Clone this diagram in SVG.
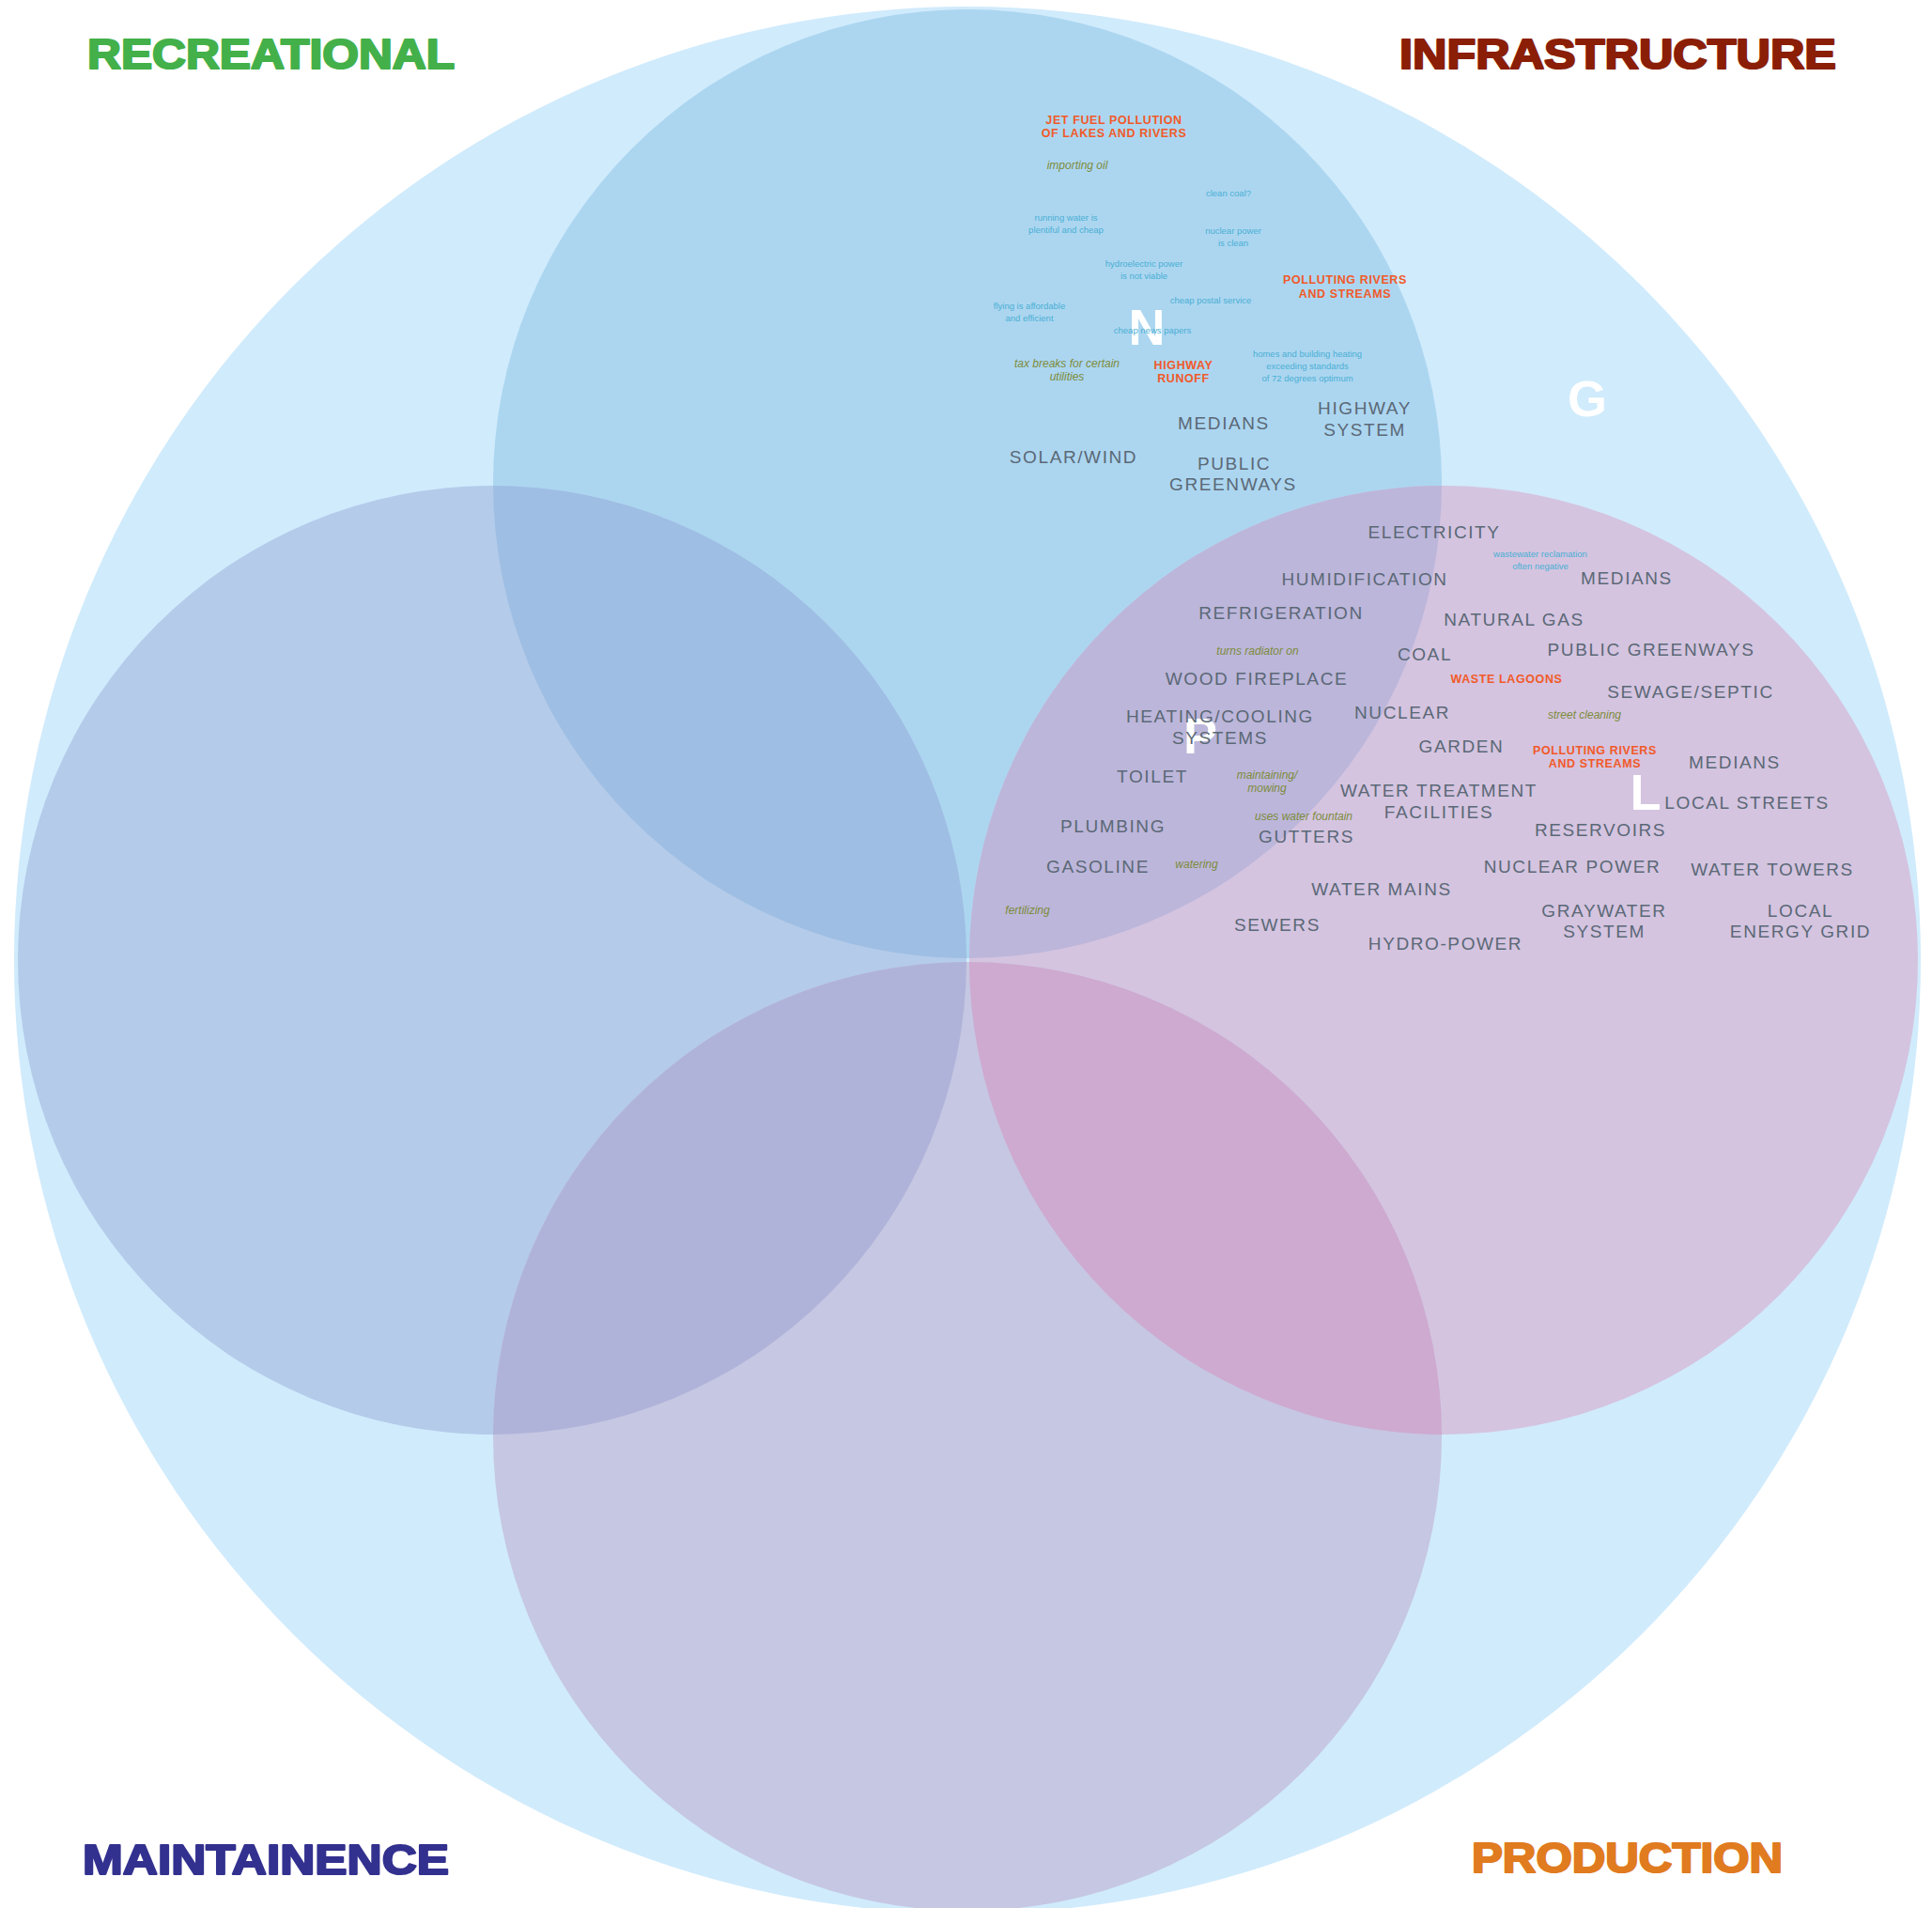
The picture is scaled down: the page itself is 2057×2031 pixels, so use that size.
<svg xmlns="http://www.w3.org/2000/svg" width="2057" height="2031" viewBox="0 0 2057 2031">
<style>
text{font-family:"Liberation Sans",Arial,sans-serif;text-anchor:middle}
.lbl{font-size:19px;letter-spacing:1.6px;fill:#5b6876}
.warn{font-size:12.5px;font-weight:bold;letter-spacing:0.6px;fill:#f15a29}
.note{font-size:9.5px;fill:#4aafd4}
.act{font-size:12px;font-style:italic;fill:#7d8b3b}
.big{font-size:54px;font-weight:bold;fill:#ffffff}
.title{font-size:45px;font-weight:bold;text-anchor:start;stroke-width:2.2px;stroke-linejoin:round}
</style>
<defs>
<clipPath id="clipTop"><circle cx="1030" cy="515" r="505"/></clipPath>
<clipPath id="clipBottom"><circle cx="1030" cy="1529" r="505"/></clipPath>
</defs>
<rect width="2057" height="2031" fill="#ffffff"/>
<g id="outer"><circle cx="1030" cy="1022" r="1015" fill="#d0ebfc"/></g>
<g id="circle-top"><circle cx="1030" cy="515" r="505" fill="#acd6f0"/></g>
<g id="circle-left"><circle cx="524" cy="1022" r="505" fill="#b4cbea"/></g>
<g id="circle-right"><circle cx="1537" cy="1022" r="505" fill="#d4c4e0"/></g>
<g id="circle-bottom"><circle cx="1030" cy="1529" r="505" fill="#c6c7e2"/></g>
<g id="overlaps">
<circle cx="524" cy="1022" r="505" fill="#9ebee3" clip-path="url(#clipTop)"/>
<circle cx="1537" cy="1022" r="505" fill="#bcb6da" clip-path="url(#clipTop)"/>
<circle cx="524" cy="1022" r="505" fill="#b0b3d9" clip-path="url(#clipBottom)"/>
<circle cx="1537" cy="1022" r="505" fill="#cea9d0" clip-path="url(#clipBottom)"/>
</g>
<g id="titles">
<text class="title" x="93" y="73" textLength="391" lengthAdjust="spacingAndGlyphs" fill="#43b04a" stroke="#43b04a">RECREATIONAL</text>
<text class="title" x="1490" y="73" textLength="465" lengthAdjust="spacingAndGlyphs" fill="#8b1e06" stroke="#8b1e06">INFRASTRUCTURE</text>
<text class="title" x="88" y="1995" textLength="390" lengthAdjust="spacingAndGlyphs" fill="#33318f" stroke="#33318f">MAINTAINENCE</text>
<text class="title" x="1567" y="1993" textLength="331" lengthAdjust="spacingAndGlyphs" fill="#e07b1f" stroke="#e07b1f">PRODUCTION</text>
</g>
<g id="letters">
<text class="big" x="1221" y="367">N</text>
<text class="big" x="1690" y="443">G</text>
<text class="big" x="1278" y="802">P</text>
<text class="big" x="1752" y="862">L</text>
</g>
<g id="labels-top">
<text class="warn" x="1186" y="132">JET FUEL POLLUTION</text>
<text class="warn" x="1186" y="146">OF LAKES AND RIVERS</text>
<text class="act" x="1147" y="180">importing oil</text>
<text class="note" x="1308" y="209">clean coal?</text>
<text class="note" x="1135" y="235">running water is</text>
<text class="note" x="1135" y="248">plentiful and cheap</text>
<text class="note" x="1313" y="249">nuclear power</text>
<text class="note" x="1313" y="262">is clean</text>
<text class="note" x="1218" y="284">hydroelectric power</text>
<text class="note" x="1218" y="297">is not viable</text>
<text class="warn" x="1432" y="302">POLLUTING RIVERS</text>
<text class="warn" x="1432" y="317">AND STREAMS</text>
<text class="note" x="1289" y="323">cheap postal service</text>
<text class="note" x="1096" y="329">flying is affordable</text>
<text class="note" x="1096" y="342">and efficient</text>
<text class="note" x="1227" y="355">cheap news papers</text>
<text class="note" x="1392" y="380">homes and building heating</text>
<text class="note" x="1392" y="393">exceeding standards</text>
<text class="note" x="1392" y="406">of 72 degrees optimum</text>
<text class="act" x="1136" y="391">tax breaks for certain</text>
<text class="act" x="1136" y="405">utilities</text>
<text class="warn" x="1260" y="393">HIGHWAY</text>
<text class="warn" x="1260" y="407">RUNOFF</text>
<text class="lbl" x="1303" y="457">MEDIANS</text>
<text class="lbl" x="1453" y="441">HIGHWAY</text>
<text class="lbl" x="1453" y="464">SYSTEM</text>
<text class="lbl" x="1143" y="493">SOLAR/WIND</text>
<text class="lbl" x="1314" y="500">PUBLIC</text>
<text class="lbl" x="1313" y="522">GREENWAYS</text>
</g>
<g id="labels-overlap">
<text class="lbl" x="1527" y="573">ELECTRICITY</text>
<text class="lbl" x="1453" y="623">HUMIDIFICATION</text>
<text class="lbl" x="1364" y="659">REFRIGERATION</text>
<text class="act" x="1339" y="697">turns radiator on</text>
<text class="lbl" x="1338" y="729">WOOD FIREPLACE</text>
<text class="lbl" x="1299" y="769">HEATING/COOLING</text>
<text class="lbl" x="1299" y="792">SYSTEMS</text>
<text class="lbl" x="1227" y="833">TOILET</text>
<text class="act" x="1349" y="829">maintaining/</text>
<text class="act" x="1349" y="843">mowing</text>
<text class="act" x="1388" y="873">uses water fountain</text>
<text class="lbl" x="1185" y="886">PLUMBING</text>
<text class="lbl" x="1169" y="929">GASOLINE</text>
<text class="act" x="1274" y="924">watering</text>
<text class="act" x="1094" y="973">fertilizing</text>
</g>
<g id="labels-right">
<text class="note" x="1640" y="593">wastewater reclamation</text>
<text class="note" x="1640" y="606">often negative</text>
<text class="lbl" x="1732" y="622">MEDIANS</text>
<text class="lbl" x="1612" y="666">NATURAL GAS</text>
<text class="lbl" x="1517" y="703">COAL</text>
<text class="lbl" x="1758" y="698">PUBLIC GREENWAYS</text>
<text class="warn" x="1604" y="727">WASTE LAGOONS</text>
<text class="lbl" x="1800" y="743">SEWAGE/SEPTIC</text>
<text class="lbl" x="1493" y="765">NUCLEAR</text>
<text class="act" x="1687" y="765">street cleaning</text>
<text class="lbl" x="1556" y="801">GARDEN</text>
<text class="warn" x="1698" y="803">POLLUTING RIVERS</text>
<text class="warn" x="1698" y="817">AND STREAMS</text>
<text class="lbl" x="1847" y="818">MEDIANS</text>
<text class="lbl" x="1532" y="848">WATER TREATMENT</text>
<text class="lbl" x="1532" y="871">FACILITIES</text>
<text class="lbl" x="1860" y="861">LOCAL STREETS</text>
<text class="lbl" x="1704" y="890">RESERVOIRS</text>
<text class="lbl" x="1391" y="897">GUTTERS</text>
<text class="lbl" x="1674" y="929">NUCLEAR POWER</text>
<text class="lbl" x="1887" y="932">WATER TOWERS</text>
<text class="lbl" x="1471" y="953">WATER MAINS</text>
<text class="lbl" x="1708" y="976">GRAYWATER</text>
<text class="lbl" x="1708" y="998">SYSTEM</text>
<text class="lbl" x="1917" y="976">LOCAL</text>
<text class="lbl" x="1917" y="998">ENERGY GRID</text>
<text class="lbl" x="1360" y="991">SEWERS</text>
<text class="lbl" x="1539" y="1011">HYDRO-POWER</text>
</g>
</svg>
